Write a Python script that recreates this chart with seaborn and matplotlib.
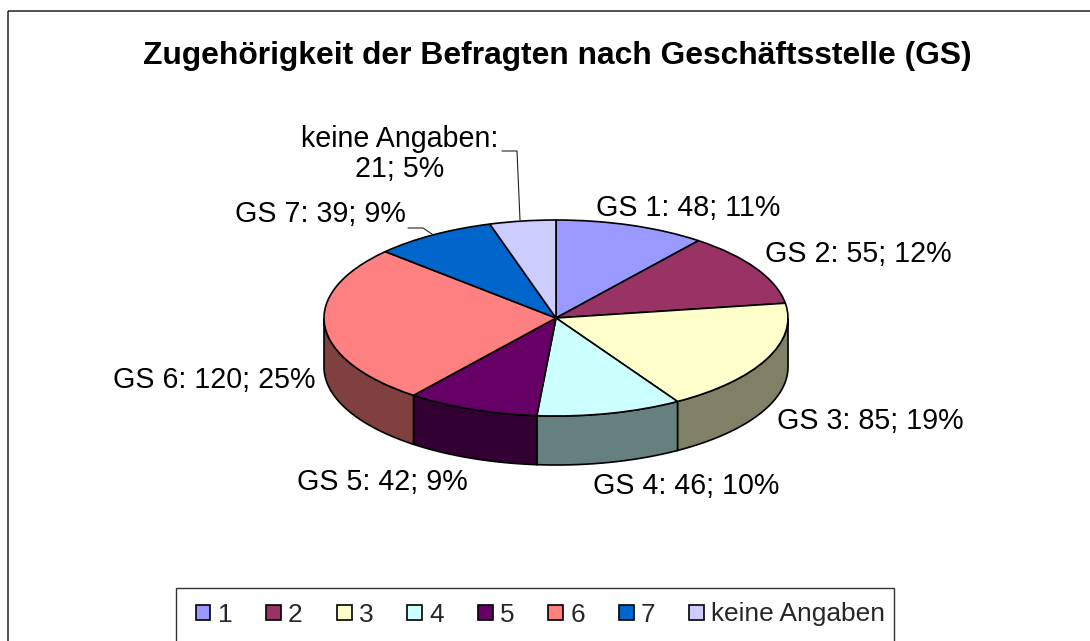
import numpy as np
import matplotlib
matplotlib.use("Agg")
import matplotlib.pyplot as plt
from matplotlib.patches import Rectangle
from matplotlib.transforms import Affine2D
import seaborn as sns

title = "Zugehörigkeit der Befragten nach Geschäftsstelle (GS)"
legend_names = ["1", "2", "3", "4", "5", "6", "7", "keine Angaben"]
label_names = ["GS 1", "GS 2", "GS 3", "GS 4", "GS 5", "GS 6", "GS 7", "keine Angaben"]
values = [48, 55, 85, 46, 42, 120, 39, 21]
percents = [11, 12, 19, 10, 9, 25, 9, 5]
hex_colors = ["#9999FF", "#993366", "#FFFFCC", "#CCFFFF", "#660066", "#FF8080", "#0066CC", "#CCCCFF"]

W, H = 1090, 641
CX, CY, RX, RY, DEPTH = 556, 318, 232, 98, 49

sns.set_theme(style="white")
plt.rcParams["font.family"] = ["Liberation Sans", "DejaVu Sans"]
palette = sns.color_palette(hex_colors)

fig = plt.figure(figsize=(W / 100, H / 100), dpi=100, facecolor="white")
ax = fig.add_axes([0, 0, 1, 1])
px = Affine2D().scale(1 / W, -1 / H).translate(0, 1) + fig.transFigure

wedges, _ = ax.pie(values, colors=palette, startangle=90, counterclock=False, radius=1,
                   wedgeprops=dict(edgecolor="black", linewidth=1.2))
for w in wedges:
    w.set_zorder(3)

# side wall of the cylinder, from the same fractions as the pie
edges = np.concatenate([[0], np.cumsum(values)]) / np.sum(values) * 2 * np.pi
depth = DEPTH / RY
for i, col in enumerate(palette):
    a, b = max(edges[i], np.pi / 2), min(edges[i + 1], 3 * np.pi / 2)
    if b <= a:
        continue
    t = np.linspace(a, b, 80)
    xs = np.sin(t)
    ys = np.cos(t)
    ax.fill(np.r_[xs, xs[::-1]], np.r_[ys, ys[::-1] - depth],
            facecolor=tuple(c * 0.5 for c in col), edgecolor="black", linewidth=1.2, zorder=2)

ax.set_aspect("auto")
ax.set_xlim(-CX / RX, (W - CX) / RX)
ax.set_ylim((CY - H) / RY, CY / RY)
ax.axis("off")

# outer chart border (continues past the image on the right and bottom)
fig.add_artist(Rectangle((8, 10.5), 1300, 900, transform=px, fill=False, edgecolor="#222222", linewidth=1.1))

FS = 20.6
fig.text(557, 56, title, transform=px, ha="center", va="center", fontsize=22.9, fontweight="bold", color="black")

label_pos = [(688, 208), (858, 254), (870, 421), (686, 486), (382, 482), (214, 380), (320, 214)]
for name, v, p, (x, y) in zip(label_names, values, percents, label_pos):
    fig.text(x, y, f"{name}: {v}; {p}%", transform=px, ha="center", va="center", fontsize=FS, color="black")
fig.text(400, 154, f"{label_names[7]}:\n{values[7]}; {percents[7]}%", transform=px, ha="center", va="center",
         fontsize=FS, color="black", linespacing=1.1)

for xs, ys in [((502, 517, 520), (151, 151, 220)), ((408, 423, 432), (228, 228, 234))]:
    fig.add_artist(plt.Line2D(xs, ys, transform=px, color="#222222", linewidth=0.8))

# legend frame runs past the bottom of the image
fig.add_artist(Rectangle((176, 588), 718, 80, transform=px, facecolor="white", edgecolor="#333333", linewidth=1.0))
leg = fig.legend(wedges, legend_names, ncol=8, loc="center left",
                 bbox_to_anchor=(195.5 / W, 1 - 614.5 / H), bbox_transform=fig.transFigure,
                 fontsize=18.9, frameon=False,
                 borderaxespad=0, borderpad=0, handlelength=0.57, handleheight=0.5,
                 handletextpad=0.27, columnspacing=1.29)

fig.savefig("out.png", dpi=100)
